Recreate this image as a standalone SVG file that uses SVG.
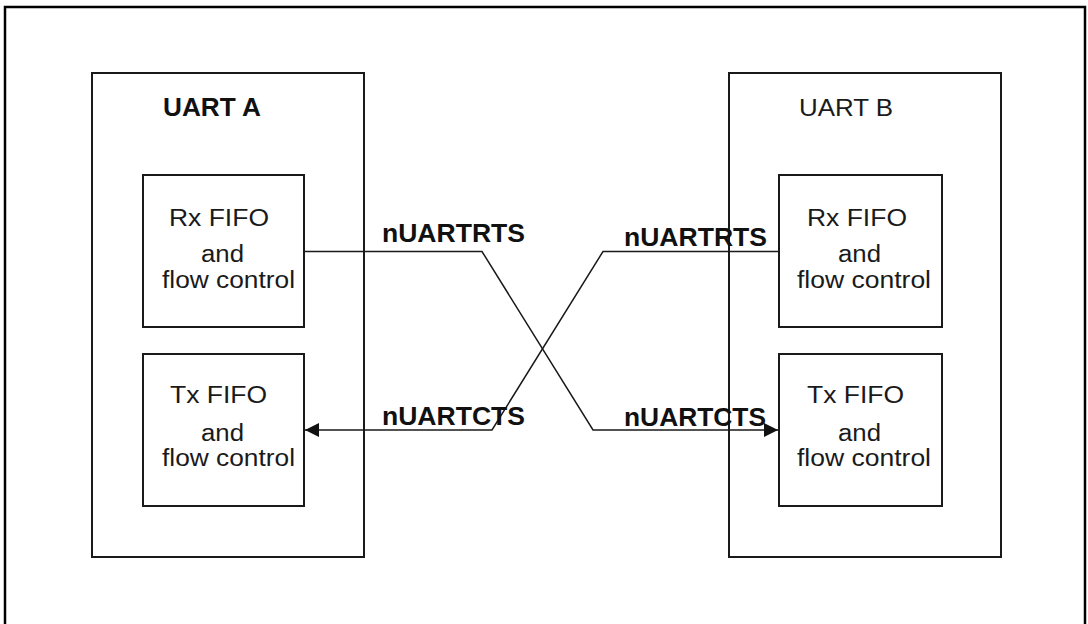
<svg xmlns="http://www.w3.org/2000/svg" width="1088" height="624" viewBox="0 0 1088 624">
  <style>
    .box { fill: none; stroke: #1a1a1a; stroke-width: 2; }
    .frame { fill: none; stroke: #000; stroke-width: 2.5; }
    .wire { fill: none; stroke: #1a1a1a; stroke-width: 1.5; }
    .t { font-family: "Liberation Sans", Arial, sans-serif; font-size: 23px; fill: #1a1a1a; }
    .b { font-family: "Liberation Sans", Arial, sans-serif; font-size: 25px; font-weight: bold; fill: #111; }
  </style>
  <defs>
    <marker id="arrow" viewBox="0 0 14 14" refX="14" refY="7" markerWidth="14" markerHeight="14" markerUnits="userSpaceOnUse" orient="auto">
      <path d="M0,0 L14,7 L0,14 Z" fill="#111"/>
    </marker>
  </defs>
  <rect width="1088" height="624" fill="#fff"/>
  <path class="frame" d="M5,640 V7 H1085 V640"/>

  <g id="uart-a">
    <rect class="box" x="92" y="73" width="272" height="484"/>
    <text class="b" x="163" y="116" textLength="98" lengthAdjust="spacingAndGlyphs">UART A</text>
  </g>
  <g id="uart-b">
    <rect class="box" x="729" y="73" width="272" height="484"/>
    <text class="t" x="799" y="116" font-size="25" textLength="94" lengthAdjust="spacingAndGlyphs">UART B</text>
  </g>

  <g id="rx-a">
    <rect class="box" x="143" y="175" width="161" height="152"/>
    <text class="t" x="169" y="226" textLength="100" lengthAdjust="spacingAndGlyphs">Rx FIFO</text>
    <text class="t" x="201" y="262" textLength="43" lengthAdjust="spacingAndGlyphs">and</text>
    <text class="t" x="162" y="288" textLength="133" lengthAdjust="spacingAndGlyphs">flow control</text>
  </g>
  <g id="tx-a">
    <rect class="box" x="143" y="354" width="161" height="152"/>
    <text class="t" x="170" y="403" textLength="97" lengthAdjust="spacingAndGlyphs">Tx FIFO</text>
    <text class="t" x="201" y="441" textLength="43" lengthAdjust="spacingAndGlyphs">and</text>
    <text class="t" x="162" y="466" textLength="133" lengthAdjust="spacingAndGlyphs">flow control</text>
  </g>
  <g id="rx-b">
    <rect class="box" x="779" y="175" width="163" height="152"/>
    <text class="t" x="807" y="226" textLength="100" lengthAdjust="spacingAndGlyphs">Rx FIFO</text>
    <text class="t" x="838" y="262" textLength="43" lengthAdjust="spacingAndGlyphs">and</text>
    <text class="t" x="797" y="288" textLength="134" lengthAdjust="spacingAndGlyphs">flow control</text>
  </g>
  <g id="tx-b">
    <rect class="box" x="779" y="354" width="163" height="152"/>
    <text class="t" x="807" y="403" textLength="97" lengthAdjust="spacingAndGlyphs">Tx FIFO</text>
    <text class="t" x="838" y="441" textLength="43" lengthAdjust="spacingAndGlyphs">and</text>
    <text class="t" x="797" y="466" textLength="134" lengthAdjust="spacingAndGlyphs">flow control</text>
  </g>

  <g id="connectors">
    <path class="wire" d="M304,251.5 H482 L593,430 H778" marker-end="url(#arrow)"/>
    <path class="wire" d="M779,251.5 H603 L492,430 H305" marker-end="url(#arrow)"/>
    <text class="b" x="382" y="242" textLength="143" lengthAdjust="spacingAndGlyphs">nUARTRTS</text>
    <text class="b" x="624" y="246" textLength="143" lengthAdjust="spacingAndGlyphs">nUARTRTS</text>
    <text class="b" x="382" y="425" textLength="143" lengthAdjust="spacingAndGlyphs">nUARTCTS</text>
    <text class="b" x="624" y="426" textLength="142" lengthAdjust="spacingAndGlyphs">nUARTCTS</text>
  </g>
</svg>
